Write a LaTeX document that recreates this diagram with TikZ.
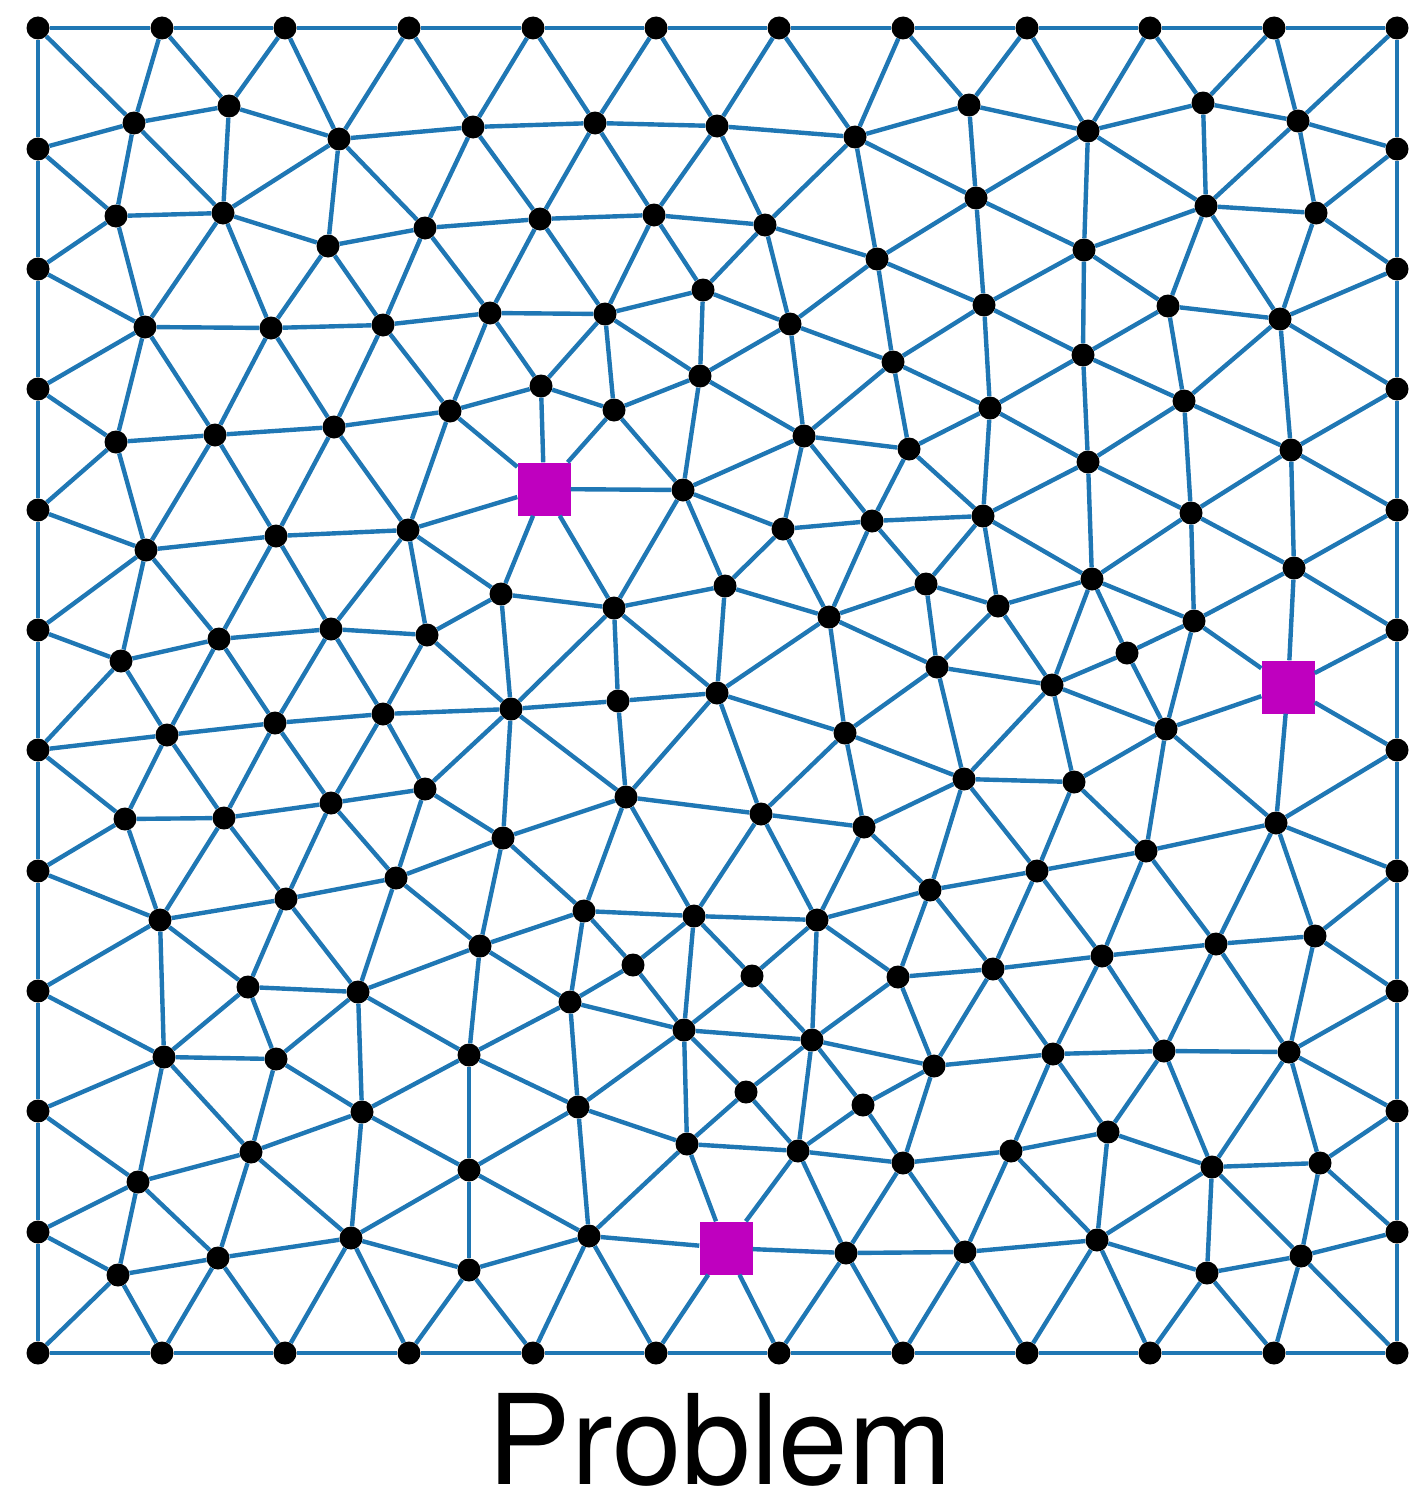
\documentclass[tikz,border=0pt]{standalone}
\usepackage{fontspec}
\setmainfont{TeX Gyre Heros}
\definecolor{edgeblue}{HTML}{1F77B4}
\definecolor{mag}{HTML}{BF00BF}
\begin{document}
\begin{tikzpicture}[x=1pt,y=-1pt,
  dot/.style={circle,fill=black,inner sep=0pt,minimum size=23pt},
  sqn/.style={rectangle,fill=mag,inner sep=0pt,minimum size=53pt},
  edgeline/.style={draw=edgeblue,line width=4.4pt}]
\useasboundingbox (0,0) rectangle (1409,1496);
% boundary nodes
\foreach \nm/\px in {1/38,2/162,3/285,4/409,5/533,6/656,7/779,8/903,9/1027,10/1150,11/1274,12/1397}{
  \node[dot] (T\nm) at (\px,28) {};
  \node[dot] (B\nm) at (\px,1353) {};
}
\foreach \nm/\py in {2/149,3/269,4/389,5/510,6/630,7/750,8/871,9/991,10/1111,11/1232}{
  \node[dot] (L\nm) at (38,\py) {};
  \node[dot] (R\nm) at (1397,\py) {};
}
% interior nodes
\foreach \nm/\px/\py in {
a1/134/123, a2/229/106, a3/339/139, a4/473/127, a5/595/123, a6/717/126, a7/855/137, a8/969/105, a9/1088/131, a10/1203/103, a11/1298/121,
b1/116/216, b2/223/213, b3/328/246, b4/425/228, b5/540/219, b6/654/215, b7/765/225, b8/976/198, b9/877/259, b10/1084/250, b11/1206/206, b12/1316/213,
c1/145/327, c2/271/328, c3/383/325, c4/490/313, c5/605/314, c6/703/290, c7/790/324, c8/984/305, c9/893/362, c10/1083/355, c11/1168/306, c12/1280/319,
d1/116/442, d2/215/435, d3/334/427, d4/541/386, d5/450/411, d6/614/410, d7/700/376, d8/804/436, d9/909/449, d10/990/408, d11/1088/462, d12/1184/401, d13/1291/450,
P/683/490, e1/146/550, e2/276/536, e3/408/530, j1/783/529, j2/872/521, j3/983/516, n1/1191/513, n3/1294/568,
f1/121/661, f2/219/639, f3/331/629, f7/427/635, f4/501/594, f5/614/608, f6/725/586, j4/829/617, j5/926/584, j6/998/606, n2/1092/579, n4/1194/621, n5/1127/653,
k1/937/667, k2/1052/685,
g1/167/735, g2/275/723, g3/383/714, g4/511/709, g5/618/701, g6/717/693, k3/845/733, n6/1166/729,
l3/964/779, l4/1074/782,
h1/125/819, h2/224/818, h3/331/803, h4/425/789, h5/503/838, h6/626/797, l1/761/814, l2/864/827, n7/1276/823,
i1/160/920, i2/286/899, i3/396/878, i4/584/911, i5/694/916, m3/817/920, m1/930/890, m2/1037/871, n8/1146/851,
aa3/1315/936, aa2/1216/944, aa1/1102/956, w3/993/969, w2/898/977, w1/752/976, s2/633/965, s1/480/946,
o1/248/987, o2/358/992, s3/570/1002, s4/684/1030, x1/812/1040,
p1/164/1057, p2/276/1059, t1/469/1055, x2/934/1066, x3/1053/1054, bb1/1164/1051, bb2/1289/1052,
y1/746/1092, y2/863/1105, q1/362/1112, t2/578/1107, t3/687/1144, y3/798/1151, y4/903/1163, y5/1011/1151, cc1/1108/1132, cc2/1212/1167, cc3/1320/1163, q2/251/1152, q3/138/1182, u1/469/1170,
r3/118/1275, r2/218/1258, r1/351/1238, v1/469/1270, u2/589/1236, z1/846/1253, z2/965/1252, dd1/1097/1240, dd2/1207/1273, dd3/1301/1256}{
  \node[dot] (\nm) at (\px,\py) {};
}
\foreach \nm/\px/\py in {sq1/544/489, sq2/1288/687, sq3/726/1248}{
  \node[sqn] (\nm) at (\px,\py) {};
}
% frame
\draw[edgeline] (T1)--(T2)--(T3)--(T4)--(T5)--(T6)--(T7)--(T8)--(T9)--(T10)--(T11)--(T12)
  --(R2)--(R3)--(R4)--(R5)--(R6)--(R7)--(R8)--(R9)--(R10)--(R11)--(B12)
  --(B11)--(B10)--(B9)--(B8)--(B7)--(B6)--(B5)--(B4)--(B3)--(B2)--(B1)
  --(L11)--(L10)--(L9)--(L8)--(L7)--(L6)--(L5)--(L4)--(L3)--(L2)--(T1);
% mesh edges
\foreach \u/\v in {
T1/a1, T2/a1, T2/a2, T3/a2, T3/a3, T4/a3, T4/a4, T5/a4, T5/a5, T6/a5, T6/a6, T7/a6, T7/a7, T8/a7, T8/a8, T9/a8, T9/a9, T10/a9, T10/a10, T11/a10, T11/a11, T12/a11,
L2/a1, L2/b1, L3/b1, L3/c1, L4/c1, L4/d1, L5/d1, L5/e1, L6/e1, L6/f1, L7/f1, L7/g1, L7/h1, L8/h1, L8/i1, L9/i1, L9/p1, L10/p1, L10/q3, L11/q3, L11/r3, B1/r3,
R2/a11, R2/b12, R3/b12, R3/c12, R4/c12, R4/d13, R5/d13, R5/n3, R6/n3, R6/sq2, R7/sq2, R7/n7, R8/n7, R8/aa3, R9/aa3, R9/bb2, R10/bb2, R10/cc3, R11/cc3, R11/dd3, B12/dd3,
B2/r3, B2/r2, B3/r2, B3/r1, B4/r1, B4/v1, B5/v1, B5/u2, B6/u2, B6/sq3, B7/sq3, B7/z1, B8/z1, B8/z2, B9/z2, B9/dd1, B10/dd1, B10/dd2, B11/dd2, B11/dd3,
a1/a2, a2/a3, a3/a4, a4/a5, a5/a6, a6/a7, a7/a8, a8/a9, a9/a10, a10/a11,
a1/b1, a1/b2, a2/b2, a3/b2, a3/b3, a3/b4, a4/b4, a4/b5, a5/b5, a5/b6, a6/b6, a6/b7, a7/b7, a7/b9, a7/b8, a8/b8, a9/b8, a9/b10, a9/b11, a10/b11, a11/b11, a11/b12,
b1/b2, b2/b3, b3/b4, b4/b5, b5/b6, b6/b7, b7/b9, b9/b8, b8/b10, b10/b11, b11/b12,
b1/c1, b2/c1, b2/c2, b3/c2, b3/c3, b4/c3, b4/c4, b5/c4, b5/c5, b6/c5, b6/c6, b7/c6, b7/c7, b9/c7, b9/c9, b9/c8, b8/c8, b10/c8, b10/c10, b10/c11, b11/c11, b11/c12, b12/c12,
c1/c2, c2/c3, c3/c4, c4/c5, c5/c6, c6/c7, c7/c9, c9/c8, c8/c10, c10/c11, c11/c12,
c1/d1, c1/d2, c2/d2, c2/d3, c3/d3, c3/d5, c4/d5, c4/d4, c5/d4, c5/d6, c5/d7, c6/d7, c7/d7, c7/d8, c9/d8, c9/d9, c9/d10, c8/d10, c10/d10, c10/d12, c10/d11, c11/d12, c12/d12, c12/d13,
d1/d2, d2/d3, d3/d5, d5/d4, d4/d6, d6/d7, d7/d8, d8/d9, d9/d10, d10/d11, d11/d12, d12/d13,
d1/e1, d2/e1, d2/e2, d3/e2, d3/e3, d5/e3, d5/sq1, d4/sq1, d6/sq1, d6/P, d7/P, d8/P, d8/j1, d8/j2, d9/j2, d9/j3, d10/j3, d11/j3, d11/n1, d11/n2, d12/n1, d13/n1, d13/n3,
e1/e2, e2/e3, e3/sq1, sq1/P, P/j1, j1/j2, j2/j3, j3/n2, n1/n2, n1/n3, n1/n4, n3/n4, n3/sq2,
e1/f1, e1/f2, e2/f2, e2/f3, e3/f3, e3/f7, e3/f4, sq1/f4, sq1/f5, P/f5, P/f6, j1/f6, j1/j4, j2/j4, j2/j5, j3/j5, j3/j6, n2/j6, n2/n4, n2/n5, n2/k2,
f1/f2, f2/f3, f3/f7, f7/f4, f4/f5, f5/f6, f6/j4, j4/j5, j5/j6, n4/n5, n4/sq2, n4/n6,
f1/g1, f2/g1, f2/g2, f3/g2, f3/g3, f7/g3, f7/g4, f4/g4, f5/g4, f5/g5, f5/g6, f6/g6, j4/g6, j4/k3, j4/k1, j5/k1, j6/k1, j6/k2, n5/k2, n5/n6, sq2/n6,
g1/g2, g2/g3, g3/g4, g4/g5, g5/g6, g6/k3, k3/k1, k1/k2,
g1/h1, g1/h2, g2/h2, g2/h3, g3/h3, g3/h4, g4/h4, g4/h5, g4/h6, g5/h6, g6/h6, g6/l1, k3/l1, k3/l2, k3/l3, k1/l3, k2/l3, k2/l4, k2/n6, n6/l4, n6/n7, n6/n8, sq2/n7,
h1/h2, h2/h3, h3/h4, h4/h5, h5/h6, h6/l1, l1/l2, l2/l3, l3/l4, l4/n8, n8/n7,
h1/i1, h2/i1, h2/i2, h3/i2, h3/i3, h4/i3, h5/i3, h5/i4, h5/s1, h6/i4, h6/i5, l1/i5, l1/m3, l2/m3, l2/m1, l3/m1, l3/m2, l4/m2, n8/m2, n7/aa2, n7/aa3, n8/aa1, n8/aa2,
i1/i2, i2/i3, i3/s1, s1/i4, i4/i5, i5/m3, m3/m1, m1/m2,
i1/o1, i1/p1, i2/o1, i2/o2, i3/o2, s1/o2, s1/t1, s1/s3, i4/s3, i4/s2, i5/s2, i5/s4, i5/w1, m3/w1, m3/x1, m3/w2, m1/w2, m1/w3, m2/w3, m2/aa1,
o1/o2, s2/s3, s2/s4, w1/s4, w1/x1, w2/w3, w3/aa1, aa1/aa2, aa2/aa3,
w2/x1, w2/x2, w3/x2, w3/x3, aa1/x3, aa1/bb1, aa2/bb1, aa2/bb2, aa3/bb2,
o1/p1, o1/p2, o2/p2, o2/q1, o2/t1,
p1/p2, s3/t1, s3/t2, s3/s4, s4/t2, s4/t3, s4/x1, s4/y1, x1/x2, x2/x3, x3/bb1, bb1/bb2,
p1/q3, p1/q2, p2/q2, p2/q1, q1/t1, t1/t2, t1/u1, q1/u1, t2/t3, t2/u1, t2/u2, x1/y1, x1/y3, x1/y2, x2/y2, x2/y4, x3/y5, x3/cc1, bb1/cc1, bb1/cc2, bb2/cc2, bb2/cc3,
q2/q3, q1/q2, q1/r1, q2/r1, q2/r2, q3/r2, q3/r3, u1/r1, u1/v1, u1/u2, u2/v1, u2/t3, t3/y1, t3/y3, t3/sq3, u2/sq3, y1/y3, y2/y3, y2/y4, y3/y4, y4/y5, y5/cc1, cc1/cc2, cc2/cc3,
y3/sq3, y3/z1, y4/z1, y4/z2, y5/z2, y5/dd1, cc1/dd1, cc2/dd1, cc2/dd2, cc2/dd3, cc3/dd3,
r3/r2, r2/r1, r1/v1, sq3/z1, z1/z2, z2/dd1, dd1/dd2, dd2/dd3}{
  \draw[edgeline] (\u) -- (\v);
}
\node[font=\fontsize{125}{128}\selectfont, anchor=base, inner sep=0pt] (title) at (720,1484) {Problem};
\end{tikzpicture}
\end{document}
